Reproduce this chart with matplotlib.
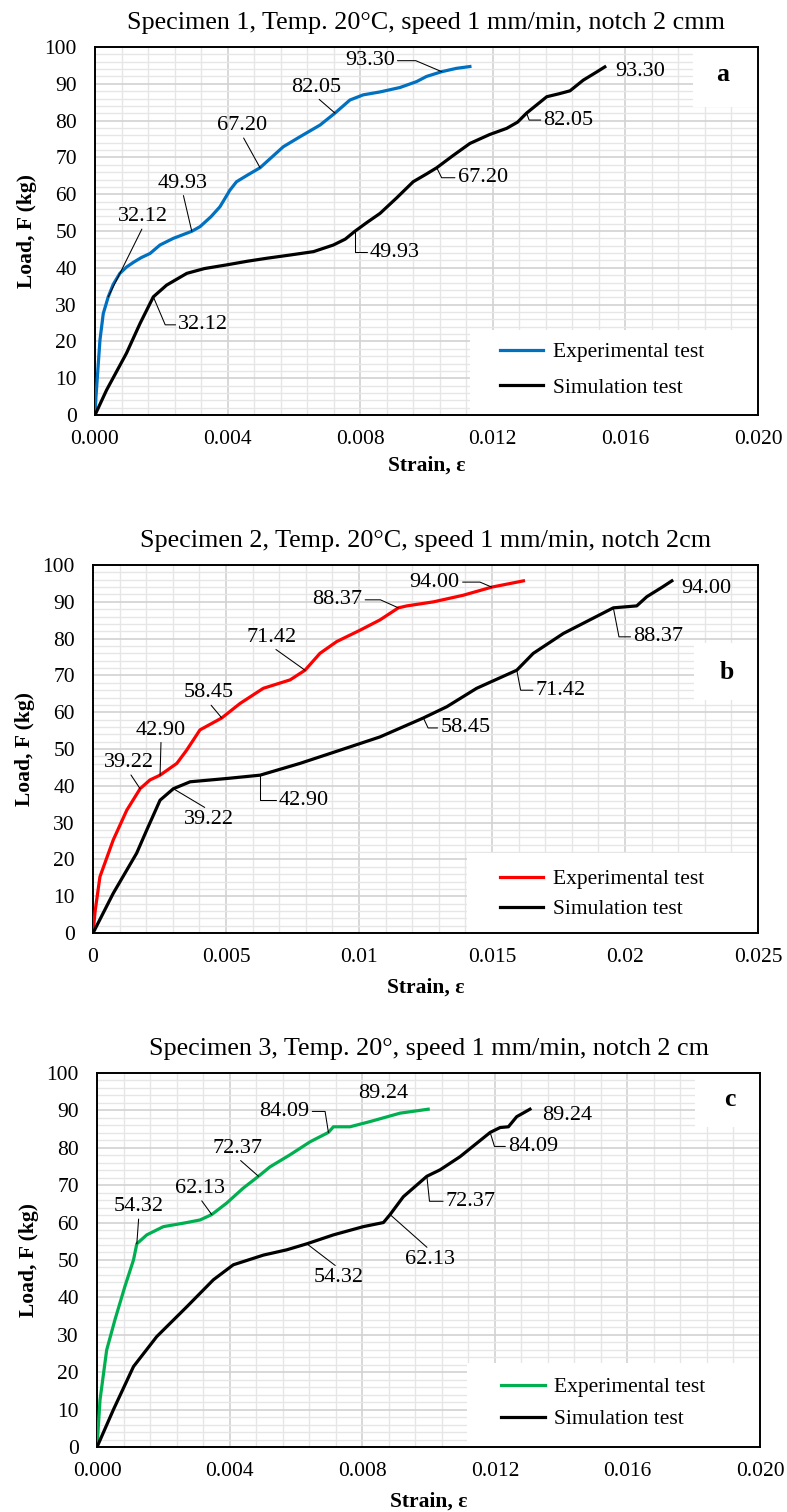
import numpy as np
import matplotlib
matplotlib.use("Agg")
import matplotlib.pyplot as plt
from matplotlib.patches import Rectangle
from matplotlib.ticker import MultipleLocator

plt.rcParams['font.family'] = ['Liberation Serif', 'DejaVu Serif']
plt.rcParams['font.size'] = 15.5

# ---- Specimen 1 ----
s1_title = "Specimen 1, Temp. 20°C, speed 1 mm/min, notch 2 cmm"
s1_exp_strain = [0, 0.00003, 0.00015, 0.00025, 0.00040, 0.00055, 0.00075, 0.00095, 0.00116,
                 0.00140, 0.00166, 0.00196, 0.00236, 0.00292, 0.00317, 0.00350, 0.00377,
                 0.00407, 0.00427, 0.00460, 0.00498, 0.00530, 0.00568, 0.00618, 0.00679,
                 0.00724, 0.00769, 0.00809, 0.00860, 0.00920, 0.00970, 0.01000, 0.01046,
                 0.01090, 0.01131]
s1_exp_load = [0, 5.0, 20.4, 27.6, 32.12, 35.5, 38.5, 40.2, 41.5,
               42.8, 43.9, 46.2, 48.0, 49.93, 51.2, 53.9, 56.6,
               61.1, 63.4, 65.2, 67.20, 69.8, 72.9, 75.6, 78.8,
               82.05, 85.6, 87.0, 87.8, 89.0, 90.6, 92.0, 93.30,
               94.2, 94.7]
s1_sim_strain = [0, 0.00035, 0.00095, 0.00136, 0.00176, 0.00216, 0.00277, 0.00330, 0.00397,
                 0.00460, 0.00518, 0.00590, 0.00659, 0.00719, 0.00755, 0.00784, 0.00820,
                 0.00860, 0.00910, 0.00960, 0.01000, 0.01031, 0.01080, 0.01131, 0.01190,
                 0.01242, 0.01275, 0.01302, 0.01363, 0.01400, 0.01433, 0.01473, 0.01515,
                 0.01538]
s1_sim_load = [0, 6.8, 16.8, 24.9, 32.12, 35.3, 38.5, 39.8, 40.8,
               41.8, 42.6, 43.5, 44.4, 46.2, 47.8, 49.93, 52.3,
               54.8, 59.0, 63.4, 65.5, 67.20, 70.5, 73.8, 76.2,
               77.9, 79.6, 82.05, 86.5, 87.3, 88.1, 91.0, 93.30,
               94.6]
s1_marks = [32.12, 49.93, 67.20, 82.05, 93.30]
s1_xticks = [0, 0.004, 0.008, 0.012, 0.016, 0.020]
s1_xticklabels = ["0.000", "0.004", "0.008", "0.012", "0.016", "0.020"]

# ---- Specimen 2 ----
s2_title = "Specimen 2, Temp. 20°C, speed 1 mm/min, notch 2cm"
s2_exp_strain = [0, 0.00008, 0.00026, 0.00076, 0.00127, 0.00177, 0.00214, 0.00252, 0.00315,
                 0.00352, 0.00402, 0.00484, 0.00553, 0.00640, 0.00741, 0.00797, 0.00853,
                 0.00916, 0.01004, 0.01079, 0.01148, 0.01180, 0.01280, 0.01392, 0.01499,
                 0.01618]
s2_exp_load = [0, 6.0, 15.3, 25.3, 33.4, 39.22, 41.6, 42.90, 46.1,
               49.7, 55.2, 58.45, 62.4, 66.5, 68.8, 71.42, 76.0,
               79.2, 82.3, 85.1, 88.37, 88.9, 90.0, 91.8, 94.00,
               95.7]
s2_sim_strain = [0, 0.00076, 0.00164, 0.00202, 0.00252, 0.00302, 0.00365, 0.00503, 0.00628,
                 0.00778, 0.00929, 0.01079, 0.01242, 0.01330, 0.01442, 0.01593, 0.01655,
                 0.01768, 0.01956, 0.02044, 0.02082, 0.02140, 0.02176]
s2_sim_load = [0, 10.8, 21.7, 28.0, 36.1, 39.22, 41.1, 42.0, 42.90,
               46.1, 49.7, 53.3, 58.45, 61.5, 66.5, 71.42, 76.0,
               81.4, 88.37, 88.9, 91.4, 94.00, 95.7]
s2_marks = [39.22, 42.90, 58.45, 71.42, 88.37, 94.00]
s2_xticks = [0, 0.005, 0.01, 0.015, 0.02, 0.025]
s2_xticklabels = ["0", "0.005", "0.01", "0.015", "0.02", "0.025"]

# ---- Specimen 3 ----
s3_title = "Specimen 3, Temp. 20°, speed 1 mm/min, notch 2 cm"
s3_exp_strain = [0, 0.00009, 0.00029, 0.00054, 0.00084, 0.00110, 0.00120, 0.00150, 0.00200,
                 0.00271, 0.00311, 0.00346, 0.00391, 0.00441, 0.00487, 0.00522, 0.00582,
                 0.00643, 0.00698, 0.00713, 0.00763, 0.00824, 0.00914, 0.00999]
s3_exp_load = [0, 12.6, 25.9, 34.0, 42.9, 50.0, 54.32, 56.7, 58.9,
               60.0, 60.7, 62.13, 65.2, 69.2, 72.37, 74.9, 78.1,
               81.6, 84.09, 85.6, 85.6, 87.0, 89.24, 90.3]
s3_sim_strain = [0, 0.00049, 0.00110, 0.00180, 0.00271, 0.00351, 0.00411, 0.00502, 0.00572,
                 0.00633, 0.00713, 0.00803, 0.00864, 0.00884, 0.00924, 0.00995, 0.01035,
                 0.01095, 0.01186, 0.01216, 0.01241, 0.01266, 0.01285, 0.01306]
s3_sim_load = [0, 9.9, 21.5, 29.5, 37.5, 44.7, 48.7, 51.3, 52.7,
               54.32, 56.7, 58.9, 60.0, 62.13, 66.9, 72.37, 74.1,
               77.6, 84.09, 85.4, 85.6, 88.3, 89.24, 90.3]
s3_marks = [54.32, 62.13, 72.37, 84.09, 89.24]
s3_xticks = [0, 0.004, 0.008, 0.012, 0.016, 0.020]
s3_xticklabels = ["0.000", "0.004", "0.008", "0.012", "0.016", "0.020"]

y_ticks = [0, 10, 20, 30, 40, 50, 60, 70, 80, 90, 100]
legend_labels = ["Experimental test", "Simulation test"]


def add_tags(ax, strain, load, marks, offsets):
    # value labels with thin leader lines; offsets are (dx, dy, leader) in pixels
    load = np.asarray(load)
    for value, (dx, dy, leader) in zip(marks, offsets):
        i = int(np.argmin(np.abs(load - value)))
        kw = dict(xy=(strain[i], load[i]), xytext=(dx, dy), textcoords='offset pixels',
                  ha='center', va='center', fontsize=16, zorder=5)
        base = dict(arrowstyle='-', color='black', lw=0.75, shrinkA=0, shrinkB=0)
        if leader == 'down':
            kw['arrowprops'] = dict(base, relpos=(0.5, 0))
        elif leader == 'up':
            kw['arrowprops'] = dict(base, relpos=(0.5, 1))
        elif leader is not None:
            rel = (0, 0.5) if dx > 0 else (1, 0.5)
            kw['arrowprops'] = dict(base, relpos=rel,
                                    connectionstyle=f'angle,angleA=0,angleB={leader},rad=0')
        ax.annotate(f'{value:.2f}', **kw)


def draw_panel(ax, title, exp_x, exp_y, sim_x, sim_y, color, xticks, xticklabels,
               xminor, letter, letter_box, legend_box, legend_at, spacing, xlab_y):
    ax.set_xlim(xticks[0], xticks[-1])
    ax.set_ylim(0, 100)
    ax.set_xticks(xticks)
    ax.set_xticklabels(xticklabels)
    ax.set_yticks(y_ticks)
    ax.xaxis.set_minor_locator(MultipleLocator(xminor))
    ax.yaxis.set_minor_locator(MultipleLocator(2))
    ax.tick_params(which='both', length=0)
    ax.tick_params(axis='x', pad=11)
    ax.tick_params(axis='y', pad=13)
    ax.set_axisbelow(True)
    ax.grid(which='major', color='#D2D2D2', lw=1.2)
    ax.grid(which='minor', color='#E6E6E6', lw=1.0)
    for sp in ax.spines.values():
        sp.set_linewidth(1.4)
        sp.set_color('black')

    ax.plot(exp_x, exp_y, color=color, lw=2.3, zorder=3, label=legend_labels[0])
    ax.plot(sim_x, sim_y, color='black', lw=2.3, zorder=3, label=legend_labels[1])

    # white patches behind the panel letter and the legend
    x0, y0, w, h = letter_box
    ax.add_patch(Rectangle((x0, y0), w, h, transform=ax.transAxes, facecolor='white',
                           edgecolor='none', zorder=1.5))
    x0, y0, w, h = legend_box
    ax.add_patch(Rectangle((x0, y0), w, h, transform=ax.transAxes, facecolor='white',
                           edgecolor='none', zorder=1.5))
    ax.text(letter[0], letter[1], letter[2], transform=ax.transAxes, fontsize=18.5,
            fontweight='bold', ha='center', va='center', zorder=4)

    ax.legend(loc='center left', bbox_to_anchor=legend_at, frameon=False, borderpad=0,
              borderaxespad=0, handlelength=2.0, handletextpad=0.45, labelspacing=spacing,
              fontsize=15.5)

    ax.set_title(title, fontsize=18.8, pad=13)
    ax.set_xlabel("Strain, ε", fontweight='bold', fontsize=15.5)
    ax.set_ylabel("Load, F (kg)", fontweight='bold', fontsize=15.5)
    ax.xaxis.set_label_coords(0.5, xlab_y)
    ax.yaxis.set_label_coords(-0.087, 0.5)


fig = plt.figure(figsize=(7.87, 15.12), dpi=100)
ax1 = fig.add_axes([0.1207, 0.7255, 0.8424, 0.2434])
ax2 = fig.add_axes([0.1182, 0.3829, 0.8450, 0.2434])
ax3 = fig.add_axes([0.1233, 0.0430, 0.8424, 0.2474])

draw_panel(ax1, s1_title, s1_exp_strain, s1_exp_load, s1_sim_strain, s1_sim_load, '#0070C0',
           s1_xticks, s1_xticklabels, 0.0008, (0.947, 0.924, 'a'),
           (0.902, 0.837, 0.098, 0.163), (0.566, 0.0, 0.432, 0.231), (0.611, 0.1225), 0.71,
           -0.109)
add_tags(ax1, s1_exp_strain, s1_exp_load, s1_marks,
         [(35, 80, 'down'), (-9, 48, 'down'), (-18, 42, 'down'), (-19, 26, 'down'),
          (-72, 11, -23)])
add_tags(ax1, s1_sim_strain, s1_sim_load, s1_marks,
         [(50, -28, -67), (40, -21, 90), (46, -10, -64), (42, -7, -70), (43, 0, None)])

draw_panel(ax2, s2_title, s2_exp_strain, s2_exp_load, s2_sim_strain, s2_sim_load, '#FF0000',
           s2_xticks, s2_xticklabels, 0.001, (0.953, 0.707, 'b'),
           (0.903, 0.633, 0.097, 0.154), (0.562, 0.0, 0.436, 0.217), (0.612, 0.1055), 0.47,
           -0.122)
add_tags(ax2, s2_exp_strain, s2_exp_load, s2_marks,
         [(-11, 26, 'down'), (1, 45, 'down'), (-13, 25, 'down'), (-33, 33, 'down'),
          (-61, 8, -24), (-57, 5, -23)])
add_tags(ax2, s2_sim_strain, s2_sim_load, s2_marks,
         [(36, -31, 'up'), (44, -25, 90), (42, -10, -65), (44, -20, -79), (45, -29, -79),
          (44, -1, None)])

draw_panel(ax3, s3_title, s3_exp_strain, s3_exp_load, s3_sim_strain, s3_sim_load, '#00B050',
           s3_xticks, s3_xticklabels, 0.0008, (0.955, 0.928, 'c'),
           (0.902, 0.856, 0.098, 0.144), (0.558, 0.0, 0.440, 0.224), (0.610, 0.117), 0.55,
           -0.120)
add_tags(ax3, s3_exp_strain, s3_exp_load, s3_marks,
         [(2, 37, 'down'), (-12, 26, 'down'), (-21, 28, 'down'), (-44, 21, 99), (-17, 20, None)])
add_tags(ax3, s3_sim_strain, s3_sim_load, s3_marks,
         [(32, -34, 'up'), (40, -45, 'up'), (44, -25, -84), (43, -14, -73), (44, -2, None)])

fig.savefig("out.png", dpi=100)
